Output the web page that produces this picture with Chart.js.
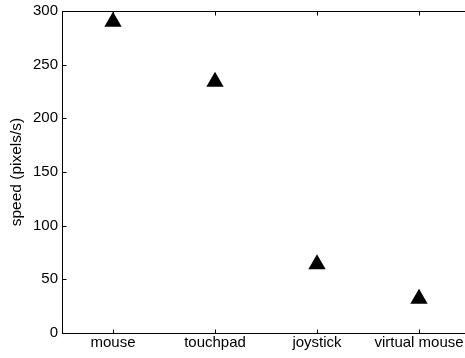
<!DOCTYPE html>
<html>
<head>
<meta charset="utf-8">
<script src="https://cdn.jsdelivr.net/npm/chart.js@4.4.0/dist/chart.umd.min.js"></script>
<style>
  html, body { margin: 0; padding: 0; background: #fff; overflow: hidden; }
  #wrap { width: 475px; height: 358px; }
</style>
</head>
<body>
<div id="wrap"><canvas id="speedChart" width="475" height="358"></canvas></div>
<script>
const devices = ['mouse', 'touchpad', 'joystick', 'virtual mouse'];
const speeds = [290, 234, 64, 32];
const yTicks = [0, 50, 100, 150, 200, 250, 300];

const fontFamily = "'Liberation Sans', Arial, Helvetica, sans-serif";

// matlab-ish box round the plot, ticks pointing inwards
const boxTicks = {
  id: 'boxTicks',
  afterDatasetsDraw(chart) {
    const { ctx, chartArea: a, scales: { x, y } } = chart;
    const left = Math.round(a.left) + 0.5;
    const right = Math.round(a.right) + 0.5;
    const top = Math.round(a.top) + 0.5;
    const bottom = Math.round(a.bottom) + 0.5;
    ctx.save();
    ctx.strokeStyle = '#000';
    ctx.lineWidth = 1;
    ctx.beginPath();
    x.ticks.forEach((t, i) => {
      const px = Math.round(x.getPixelForTick(i)) + 0.5;
      ctx.moveTo(px, bottom); ctx.lineTo(px, bottom - 4);
      ctx.moveTo(px, top); ctx.lineTo(px, top + 4);
    });
    y.ticks.forEach((t, i) => {
      const py = Math.round(y.getPixelForTick(i)) + 0.5;
      ctx.moveTo(left, py); ctx.lineTo(left + 4, py);
      ctx.moveTo(right, py); ctx.lineTo(right - 4, py);
    });
    ctx.stroke();
    ctx.strokeRect(left, top, right - left, bottom - top);
    ctx.restore();
  }
};

const speedChart = new Chart(document.getElementById('speedChart').getContext('2d'), {
  type: 'line',
  data: {
    labels: devices,
    datasets: [{
      data: speeds,
      showLine: false,
      pointStyle: 'triangle',
      pointRadius: 10,
      pointHoverRadius: 10,
      pointBackgroundColor: '#000',
      pointBorderColor: '#000',
      pointBorderWidth: 0,
      clip: false
    }]
  },
  options: {
    responsive: false,
    animation: false,
    layout: { autoPadding: false, padding: { top: 11, right: 5, bottom: 0, left: 0 } },
    plugins: {
      legend: { display: false },
      tooltip: { enabled: false }
    },
    scales: {
      x: {
        type: 'category',
        offset: true,
        grid: { display: false, drawTicks: false },
        border: { display: false },
        ticks: {
          color: '#000',
          padding: 1,
          maxRotation: 0,
          autoSkip: false,
          font: { family: fontFamily, size: 15 }
        },
        afterFit: s => { s.height = 25; s.paddingLeft = 0; s.paddingRight = 0; }
      },
      y: {
        min: 0,
        max: 300,
        grid: { display: false, drawTicks: false },
        border: { display: false },
        afterBuildTicks: s => { s.ticks = yTicks.map(v => ({ value: v })); },
        ticks: {
          color: '#000',
          padding: 4,
          font: { family: fontFamily, size: 15 }
        },
        title: {
          display: true,
          text: 'speed (pixels/s)',
          color: '#000',
          padding: { top: 7, bottom: 0 },
          font: { family: fontFamily, size: 15.5 }
        },
        afterFit: s => { s.width = 62; s.paddingTop = 0; s.paddingBottom = 0; }
      }
    }
  },
  plugins: [boxTicks]
});
</script>
</body>
</html>
